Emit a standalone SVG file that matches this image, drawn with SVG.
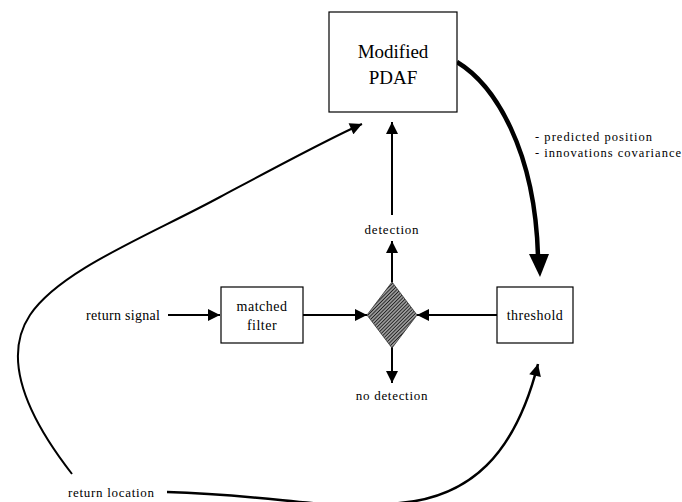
<svg xmlns="http://www.w3.org/2000/svg" width="682" height="502" viewBox="0 0 682 502" font-family="Times New Roman">
<defs>
<marker id="ah" viewBox="0 0 12 12" refX="12" refY="6" markerWidth="13" markerHeight="12" markerUnits="userSpaceOnUse" orient="auto">
<path d="M0,0 L12,6 L0,12 Z" fill="#000"/>
</marker>
<pattern id="hatch" width="2.5" height="2.5" patternUnits="userSpaceOnUse" patternTransform="rotate(45)">
<rect width="2.5" height="2.5" fill="#999"/>
<line x1="0" y1="0" x2="0" y2="2.5" stroke="#111" stroke-width="1.5"/>
</pattern>
</defs>
<rect width="682" height="502" fill="#fff"/>
<g id="connectors" fill="none" stroke="#000" stroke-width="2">
<path d="M72,474 C30,420 0,360 30,315 C60,270 150,235 220,197 C280,165 330,138 362,124" marker-end="url(#ah)"/>
<path d="M167,492 C280,495 330,512 400,503 C470,497 515,455 538,364" stroke-width="2.5" marker-end="url(#ah)"/>
<path d="M457,62 C495,85 535,150 538,256" stroke-width="4.5"/>
<path d="M529,254 L549,254 L540,277 Z" fill="#000" stroke="none"/>
<line x1="168" y1="315" x2="220" y2="315" marker-end="url(#ah)"/>
<line x1="303" y1="315" x2="367" y2="315" marker-end="url(#ah)"/>
<line x1="497" y1="315" x2="417" y2="315" marker-end="url(#ah)"/>
<line x1="392" y1="282" x2="392" y2="241" marker-end="url(#ah)"/>
<line x1="392" y1="347" x2="392" y2="383" marker-end="url(#ah)"/>
<line x1="392" y1="215" x2="392" y2="122" marker-end="url(#ah)"/>
</g>
<g id="pdaf">
<rect x="329" y="12" width="128" height="100" fill="#fff" stroke="#000" stroke-width="1.2"/>
<text x="393" y="58" font-family="Times New Roman" font-size="19" text-anchor="middle">Modified</text>
<text x="393" y="84" font-family="Times New Roman" font-size="19" text-anchor="middle">PDAF</text>
</g>
<g id="matched-filter">
<rect x="221" y="287" width="82" height="56" fill="#fff" stroke="#000" stroke-width="1.2"/>
<text x="262" y="311" font-family="Times New Roman" font-size="14" letter-spacing="0.5" text-anchor="middle">matched</text>
<text x="262" y="330" font-family="Times New Roman" font-size="14" letter-spacing="0.5" text-anchor="middle">filter</text>
</g>
<g id="threshold">
<rect x="497" y="287" width="76" height="56" fill="#fff" stroke="#000" stroke-width="1.2"/>
<text x="535" y="320" font-family="Times New Roman" font-size="14" letter-spacing="0.5" text-anchor="middle">threshold</text>
</g>
<g id="decision">
<path d="M392,282 L417,315 L392,348 L367,315 Z" fill="url(#hatch)" stroke="#333" stroke-width="0.8"/>
</g>
<g id="labels">
<text x="86" y="320" font-family="Times New Roman" font-size="14" textLength="74">return signal</text>
<text x="392" y="234" font-family="Times New Roman" font-size="13" letter-spacing="0.8" text-anchor="middle">detection</text>
<text x="392" y="400" font-family="Times New Roman" font-size="13" letter-spacing="0.7" text-anchor="middle">no detection</text>
<text x="68" y="497" font-family="Times New Roman" font-size="13" textLength="86">return location</text>
<text x="535" y="141" font-family="Times New Roman" font-size="12.5" textLength="117">- predicted position</text>
<text x="535" y="157" font-family="Times New Roman" font-size="12.5" textLength="146">- innovations covariance</text>
</g>
</svg>
